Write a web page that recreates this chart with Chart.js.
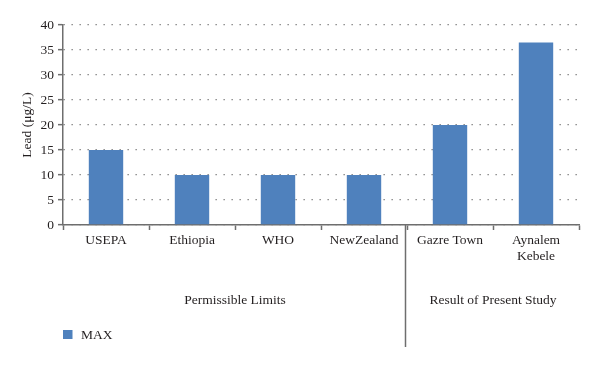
<!DOCTYPE html>
<html>
<head>
<meta charset="utf-8">
<script src="https://cdn.jsdelivr.net/npm/chart.js@4"></script>
<style>
  html, body { margin: 0; padding: 0; background: #fff; }
  #wrap { width: 600px; height: 369px; }
</style>
</head>
<body>
<div id="wrap"><canvas id="chart" width="600" height="369"></canvas></div>
<script>
// ---------- Data ----------
const categories = ['USEPA', 'Ethiopia', 'WHO', 'NewZealand', 'Gazre Town', ['Aynalem', 'Kebele']];
const maxValues = [15, 10, 10, 10, 20, 36.5];
const groupNames = ['Permissible Limits', 'Result of Present Study'];
const groupSizes = [4, 2];
const seriesName = 'MAX';
const yTicks = [0, 5, 10, 15, 20, 25, 30, 35, 40];

const FONT = "'Liberation Serif', 'DejaVu Serif', serif";
const AXIS = '#6e6e6e';
const BAR = '#4f81bd';
const TEXT = '#231f20';
const FS = 13.5;

// ---------- Group labels, separator, legend ----------
const extras = {
    id: 'extras',
    afterDraw(chart) {
        const { ctx, chartArea } = chart;
        const x = chart.scales.x;
        ctx.save();
        ctx.font = FS + 'px ' + FONT;
        ctx.fillStyle = TEXT;
        ctx.textAlign = 'center';
        ctx.textBaseline = 'middle';
        let start = 0;
        groupSizes.forEach((n, i) => {
            const left = start === 0 ? chartArea.left : (x.getPixelForValue(start - 1) + x.getPixelForValue(start)) / 2;
            const end = start + n;
            const right = end >= categories.length ? chartArea.right : (x.getPixelForValue(end - 1) + x.getPixelForValue(end)) / 2;
            ctx.fillText(groupNames[i], (left + right) / 2, 300);
            if (start > 0) {
                ctx.strokeStyle = AXIS;
                ctx.lineWidth = 1.5;
                ctx.beginPath();
                ctx.moveTo(Math.round(left) - 1.5, chartArea.bottom);
                ctx.lineTo(Math.round(left) - 1.5, 347);
                ctx.stroke();
            }
            start = end;
        });
        // legend
        ctx.fillStyle = BAR;
        ctx.fillRect(63, 330, 9.5, 9);
        ctx.fillStyle = TEXT;
        ctx.textAlign = 'left';
        ctx.fillText(seriesName, 81, 335);
        ctx.restore();
    }
};

new Chart(document.getElementById('chart'), {
    type: 'bar',
    data: {
        labels: categories,
        datasets: [{
            label: seriesName,
            data: maxValues,
            backgroundColor: BAR,
            borderWidth: 0,
            barPercentage: 0.4,
            categoryPercentage: 1
        }]
    },
    options: {
        responsive: false,
        animation: false,
        layout: { padding: { left: 0, right: 21, top: 25, bottom: 0 } },
        plugins: { legend: { display: false }, tooltip: { enabled: false } },
        scales: {
            x: {
                afterFit: s => { s.height = 144; },
                grid: {
                    drawOnChartArea: false,
                    drawTicks: true,
                    tickLength: 5,
                    tickColor: AXIS,
                    tickWidth: 1.5,
                    offset: true
                },
                border: { color: AXIS, width: 1.5 },
                ticks: {
                    color: TEXT,
                    font: { family: FONT, size: FS },
                    padding: 2,
                    maxRotation: 0,
                    autoSkip: false
                }
            },
            y: {
                min: 0,
                max: 40,
                afterFit: s => { s.width = 63; },
                afterBuildTicks: s => { s.ticks = yTicks.map(v => ({ value: v })); },
                grid: {
                    color: '#7a7a7a',
                    lineWidth: 1.3,
                    drawTicks: true,
                    tickLength: 5,
                    tickColor: AXIS,
                    tickWidth: 1.5,
                    tickBorderDash: []
                },
                border: { color: AXIS, width: 1.5, dash: [1.3, 6.7] },
                ticks: {
                    color: TEXT,
                    font: { family: FONT, size: FS },
                    padding: 4
                },
                title: {
                    display: true,
                    text: 'Lead (μg/L)',
                    color: TEXT,
                    font: { family: FONT, size: FS },
                    padding: { top: 19, bottom: 0 }
                }
            }
        }
    },
    plugins: [extras]
});
</script>
</body>
</html>
